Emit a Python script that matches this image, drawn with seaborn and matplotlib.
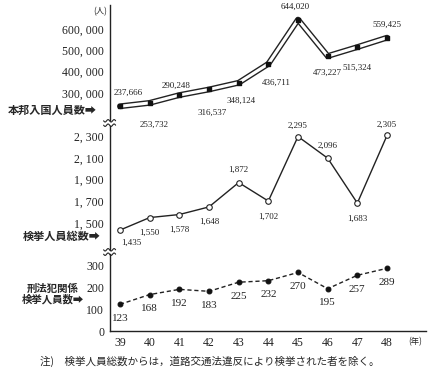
import numpy as np
import matplotlib.pyplot as plt
import seaborn as sns

# data (fiscal years, Showa era)
years = [39, 40, 41, 42, 43, 44, 45, 46, 47, 48]
entrants = [237666, 253732, 290248, 316537, 348124, 436711, 644020, 473227, 515324, 559425]
arrests_total = [1435, 1550, 1578, 1648, 1872, 1702, 2295, 2096, 1683, 2305]
arrests_penal = [123, 168, 192, 183, 225, 232, 270, 195, 257, 289]

entrant_ticks = [300000, 400000, 500000, 600000]
total_ticks = [1500, 1700, 1900, 2100, 2300]
penal_ticks = [0, 100, 200, 300]

sns.set_style("white")
plt.rcParams['font.family'] = ['Noto Sans CJK JP', 'DejaVu Sans']
NUM = 'Liberation Serif'
JP = ['Noto Sans CJK JP', 'DejaVu Sans']

fig = plt.figure(figsize=(4.33, 3.77), dpi=100)
L, W = 0.2531, 0.7298
ax_top = fig.add_axes([L, 0.6817, W, 0.305])
ax_mid = fig.add_axes([L, 0.3369, W, 0.3289])
ax_bot = fig.add_axes([L, 0.122, W, 0.2042])

for ax in (ax_top, ax_mid, ax_bot):
    ax.set_xlim(38.65, 49.3)
    ax.set_facecolor('none')
    for s in ('top', 'right'):
        ax.spines[s].set_visible(False)
    ax.spines['left'].set_linewidth(1.0)
    ax.spines['left'].set_color('#222222')
    ax.tick_params(axis='y', direction='out', length=3, width=0.8, pad=1,
                   labelsize=8.5, colors='#222222')
    ax.grid(False)

for ax in (ax_top, ax_mid):
    ax.spines['bottom'].set_visible(False)
    ax.set_xticks([])

# top panel: double line
ax_top.set_ylim(173400, 712500)
sns.lineplot(x=years, y=entrants, ax=ax_top, color='#222222', lw=4.2)
sns.lineplot(x=years, y=entrants, ax=ax_top, color='white', lw=2.2)
ax_top.scatter(years, entrants, s=9, marker='s', color='#111111', zorder=5)
ax_top.set_yticks(entrant_ticks)
ax_top.set_yticklabels([f"{v:,}".replace(',', ', ') for v in entrant_ticks], family=NUM)
top_off = [(6, 10), (3, -16), (-2, 7), (2, -17), (2, -13), (6, -14), (-2, 9), (0, -12), (0, -15), (0, 9)]
for x, v, (dx, dy) in zip(years, entrants, top_off):
    ax_top.annotate(f"{v:,}", (x, v), xytext=(dx, dy), textcoords='offset points',
                    ha='center', va='center', fontsize=6.5, family=NUM, color='#222222')

# middle panel
ax_mid.set_ylim(1252, 2392)
sns.lineplot(x=years, y=arrests_total, ax=ax_mid, color='#222222', lw=1.0,
             marker='o', markersize=4, markerfacecolor='white', markeredgecolor='#222222',
             markeredgewidth=0.8)
ax_mid.set_yticks(total_ticks)
ax_mid.set_yticklabels([f"{v:,}".replace(',', ', ') for v in total_ticks], family=NUM)
mid_off = [(8, -9), (0, -11), (0, -11), (0, -11), (0, 9), (0, -11), (0, 8), (0, 9), (0, -11), (0, 8)]
for x, v, (dx, dy) in zip(years, arrests_total, mid_off):
    ax_mid.annotate(f"{v:,}", (x, v), xytext=(dx, dy), textcoords='offset points',
                    ha='center', va='center', fontsize=6.5, family=NUM, color='#222222')

# bottom panel
ax_bot.set_ylim(0, 355)
sns.lineplot(x=years, y=arrests_penal, ax=ax_bot, color='#222222', lw=1.0,
             linestyle=(0, (3, 2)), marker='o', markersize=3.5,
             markerfacecolor='#111111', markeredgecolor='#111111')
ax_bot.set_yticks(penal_ticks)
ax_bot.set_yticklabels([str(v) for v in penal_ticks], family=NUM)
for x, v in zip(years, arrests_penal):
    ax_bot.annotate(str(v), (x, v), xytext=(0, -10), textcoords='offset points',
                    ha='center', va='center', fontsize=8, family=NUM, color='#222222')
ax_bot.spines['bottom'].set_linewidth(1.0)
ax_bot.spines['bottom'].set_color('#222222')
ax_bot.set_xticks(years)
ax_bot.set_xticklabels([str(y) for y in years], family=NUM)
ax_bot.tick_params(axis='x', direction='inout', length=5, width=0.8, labelsize=8.5,
                   colors='#222222', pad=2)

# wavy break marks on the left spine
t = np.linspace(0, 1, 40)
for yc in (123, 252):
    for k in (-2.2, 2.2):
        xs = 109.6 + (t - 0.5) * 12
        ys = yc + k + 1.2 * np.sin(t * 4 * np.pi)
        fig.add_artist(plt.Line2D(xs / 433, 1 - ys / 377, color='#222222', lw=0.8))
    fig.add_artist(plt.Rectangle(((109.6 - 6) / 433, 1 - (yc + 1) / 377), 12 / 433, 2 / 377,
                                 color='white', lw=0))

# annotations
fig.text(100 / 433, 1 - 12 / 377, "(人)", fontsize=6, family=JP, ha='center', va='center')
fig.text(415 / 433, 1 - 342 / 377, "(年)", fontsize=6, family=JP, ha='center', va='center')
fig.text(52 / 433, 1 - 110 / 377, "本邦入国人員数➡", fontsize=8, family=JP,
         ha='center', va='center', weight='bold')
fig.text(62 / 433, 1 - 236 / 377, "検挙人員総数➡", fontsize=8, family=JP,
         ha='center', va='center', weight='bold')
fig.text(53 / 433, 1 - 294 / 377, "刑法犯関係\n検挙人員数➡", fontsize=7.5, family=JP,
         ha='center', va='center', weight='bold', linespacing=1.0)
fig.text(40 / 433, 1 - 361 / 377,
         "注)　検挙人員総数からは，道路交通法違反により検挙された者を除く。",
         fontsize=7.6, family=JP, ha='left', va='center')

fig.savefig("out.png", dpi=100)
